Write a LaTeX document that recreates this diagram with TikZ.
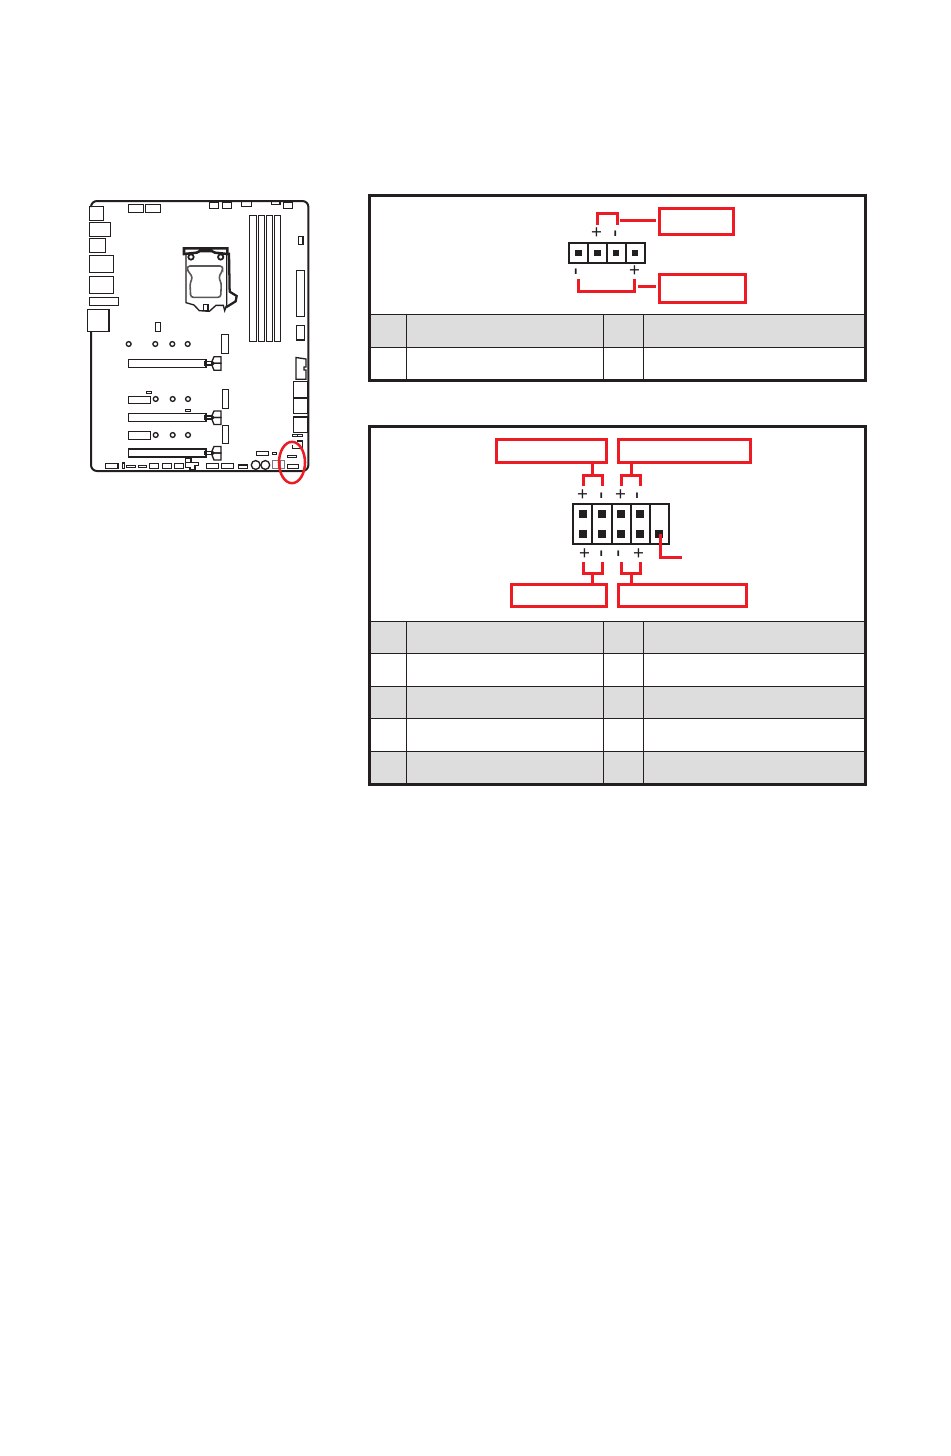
\documentclass[tikz,border=0pt]{standalone}
\usepackage{fontspec}
\setmainfont{Liberation Sans}
\usetikzlibrary{shapes.geometric}
\definecolor{msired}{HTML}{ED1C24}
\definecolor{msiink}{HTML}{231F20}
\definecolor{msigray}{HTML}{DDDDDD}
\tikzset{
  board/.style = {draw = msiink, line width = 1pt},
  thinpart/.style = {draw = msiink, line width = 0.75pt},
  tableframe/.style = {draw = msiink, line width = 2.25pt},
  tablerule/.style = {draw = msiink, line width = 0.7pt},
  redline/.style = {draw = msired, line width = 2.25pt},
  labelbox/.style = {draw = msired, line width = 2.25pt, inner sep = 0pt},
  pinbox/.style = {draw = msiink, line width = 1.5pt},
  polarity/.style = {text = msiink, font = \fontsize{14}{14}\selectfont, inner sep = 0pt},
  tickmark/.style = {text = msiink, font = \fontsize{17}{17}\selectfont, inner sep = 0pt, rotate = 90}
}
\begin{document}
\begin{tikzpicture}[x = 0.75pt, y = -0.75pt]
\useasboundingbox (0,0) rectangle (950,1456);
% board outline
\draw [board, line width = 1.5pt, rounded corners = 4.5pt] (91,206) |- (308.4,201) |- (91,471) -- (91,331);
% rear panel, top edge and memory
\foreach \xa/\ya/\xb/\yb in {89.3/206.3/103.7/220.7, 89.3/222.3/110.5/236.7, 89.3/238.3/105.7/252.7, 89.3/255.3/113.7/272.3, 89.3/276.3/113.7/293.3, 89.3/297.3/118.7/305.7, 87.5/309.3/109/331.3,
  128.3/204.3/143.7/212.7, 145.3/204.3/160.7/212.7, 209.3/202.3/218.7/208.3, 222.3/202.3/231.7/208.3, 241.3/201/251.7/206.3, 271.7/201.5/280/204.3, 283.3/202.3/292.7/208.3,
  249.3/215.3/256.3/341.7, 258.3/215.3/264.7/341.7, 266.3/215.3/272.7/341.7, 274.3/215.3/280.7/341.7,
  298.3/236.3/303/244.3, 296.3/270.3/304.3/316.7, 296.3/325.3/304.3/340, 155.7/322.3/160.7/331.3, 221.3/334.3/228.3/353.3}
  \draw [board] (\xa,\ya) rectangle (\xb,\yb);
% socket
\begin{scope}[shift = {(80,190)}, x = 0.25pt, y = -0.25pt]
\draw [board] (318,195) -- (318,338) -- (342,345) -- (358,362) -- (388,364) -- (408,346) -- (430,346) -- (434,362) -- (440,346) -- (440,195);
\draw [board, line width = 1.9pt] (312,192) -- (312,175) -- (442,175) -- (442,192) -- (405,188) -- (395,183) -- (360,183) -- (350,188) -- cycle;
\draw [board, line width = 1.7pt] (447,188) -- (449,305) -- (470,318) -- (467,334) -- (438,352);
\draw [board, draw = msiink!75, line width = 1.2pt, rounded corners = 2pt] (322,228) -- (428,228) -- (428,240) -- (416,262) -- (424,280) -- (422,322) -- (332,322) -- (330,280) -- (338,262) -- (322,240) -- cycle;
\draw [board, line width = 1.3pt] (333,201) circle (8);
\draw [board, line width = 1.3pt] (422,201) circle (8);
\draw [board] (370,344) rectangle (384,362);
\end{scope}
% slots
\foreach \ys in {363.3, 417.5, 453} {
  \draw [board] (128.3,\ys-4) rectangle (206,\ys+4);
  \draw [board] (205,\ys-1.6) rectangle (212,\ys+1.6);
  \draw [board] (212,\ys-2) -- (214,\ys-6.5) -- (221,\ys-6.5) -- (221,\ys) -- (214,\ys) -- cycle;
  \draw [board] (212,\ys+2) -- (214,\ys+7) -- (221,\ys+7) -- (221,\ys) -- (214,\ys) -- cycle;
}
% mounting holes
\foreach \xh/\yh in {128.7/344, 155.3/344, 172.3/344, 187.7/344, 155.7/399, 172.7/399, 188/399, 155.7/435, 172.7/435, 188/435}
  \draw [board] (\xh,\yh) circle (2.4);
% lower parts
\foreach \xa/\ya/\xb/\yb in {128.3/396.3/150.7/403.7, 128.3/431.3/150.7/439.3, 222.3/389.3/228.3/408.3, 222.3/425.3/228.3/443.3,
  293.3/381.7/308/397.7, 293.3/398.3/308/413.7, 293.3/417/308/432.7,
  105.3/463.3/118/468.3, 122.3/463/124.7/468.3, 149.3/463.3/158.7/468.3, 162.3/463.3/171.7/468.3, 174.7/463.3/183.7/468.3, 185.3/458.3/191/462.3,
  206.7/463.3/218.7/468.3, 221.3/463.3/233.3/468.3, 238.3/465/247.7/468.3, 287.3/464.3/298.7/468.3, 256.3/451.3/268.7/455.3}
  \draw [board] (\xa,\ya) rectangle (\xb,\yb);
\foreach \xa/\ya/\xb/\yb in {146.3/391.3/151.7/393.7, 185.3/409.3/190.7/411.7, 126.3/465.7/135/467.7, 138.3/465.7/146.7/467.7, 292.3/434.3/297.3/436.7, 297.3/434.3/302.3/436.7, 272.3/452.3/276.7/454.7, 287.3/455.3/296.7/457.7}
  \draw [thinpart] (\xa,\ya) rectangle (\xb,\yb);
\draw [board] (296,357.5) -- (306,359) -- (306,367) -- (304,367) -- (304,370) -- (306,370) -- (306,379.3) -- (296,379.3) -- cycle;
\draw [board] (185.3,462.3) -- (198.3,462.3) -- (198.3,465.7) -- (195,465.7) -- (195,469.3) -- (190,469.3) -- (190,467.7) -- (185.3,467.7) -- cycle;
\draw [board] (296.7,441) -- (302.7,441) -- (302.7,448.3) -- (292.3,448.3) -- (292.3,444.5);
\draw [board] (255.7,465) circle (4.4);
\draw [board] (265.3,465) circle (4.4);
\draw [thinpart, draw = msiink!60] (272.3,460) rectangle (280,468.3);
\draw [thinpart, draw = msiink!60] (280,460) rectangle (284.3,468.3);
% marker
\node [draw = msired, line width = 1.9pt, ellipse, inner sep = 0pt, minimum width = 19.5pt, minimum height = 31pt] (marker) at (292,462.5) {};
% upper table
\fill [msigray] (369,314.3) rectangle (865,347.3);
\foreach \y in {314.3, 347.3} \draw [tablerule] (369,\y) -- (865,\y);
\foreach \x in {406.3, 603.3, 643.7} \draw [tablerule] (\x,314.3) -- (\x,380.3);
\draw [tableframe] (369.3,195.3) rectangle (865.3,380.3);
% lower table
\fill [msigray] (369,621) rectangle (865,653.5);
\fill [msigray] (369,686) rectangle (865,718.5);
\fill [msigray] (369,751.5) rectangle (865,784);
\foreach \y in {621, 653.5, 686, 718.5, 751.5} \draw [tablerule] (369,\y) -- (865,\y);
\foreach \x in {406.3, 603.3, 643.7} \draw [tablerule] (\x,621) -- (\x,784);
\draw [tableframe] (369.3,426) rectangle (865.3,784);
% 4 pin header
\foreach \n in {0,...,3} {
  \pgfmathsetmacro\xp{569.2+\n*18.9}
  \draw [pinbox] (\xp,243) rectangle (\xp+18.9,263);
  \fill [msiink] (\xp+6,250) rectangle (\xp+12.4,256);
}
\node [labelbox, minimum width = 55.5pt, minimum height = 20.2pt] (fanbox) at (696.5,221.5) {};
\node [labelbox, minimum width = 65.2pt, minimum height = 21pt] (hddbox) at (702.5,288) {};
\coordinate (topa) at (597,225);
\coordinate (topb) at (617,225);
\coordinate (lowa) at (578,279);
\coordinate (lowb) at (634.5,279);
\draw [redline] (topa) -- (597,213.5) -- (617,213.5) -- (topb);
\draw [redline] (lowa) -- (578,291) -- (634.5,291) -- (lowb);
\coordinate (topstem) at (619.5,220.5);
\coordinate (lowstem) at (637.5,286.5);
\draw [redline, shorten > = 1.2pt] (topstem) -- (fanbox.west |- topstem);
\draw [redline, shorten > = 1.2pt] (lowstem) -- (hddbox.west |- lowstem);
\node [polarity] (ptop) at (596.5,233.5) {+};
\node [tickmark] (mtop) at (618,234) {-};
\node [tickmark] (mlow) at (578.5,271.5) {-};
\node [polarity] (plow) at (634.5,271.5) {+};
% 9 pin header
\foreach \n in {0,...,4} {
  \pgfmathsetmacro\xp{573+\n*19.25}
  \draw [pinbox] (\xp,504) rectangle (\xp+19.25,544);
}
\foreach \x in {583,602,621,640} \foreach \y in {514,534} \fill [msiink] (\x-4,\y-4) rectangle (\x+4,\y+4);
\fill [msiink] (655,530) rectangle (663,538);
\node [labelbox, minimum width = 82pt, minimum height = 17pt] (tlbox) at (551.5,451) {};
\node [labelbox, minimum width = 98.8pt, minimum height = 17pt] (trbox) at (684.5,451) {};
\node [labelbox, minimum width = 70.8pt, minimum height = 16.5pt] (blbox) at (558.8,595.7) {};
\node [labelbox, minimum width = 95.8pt, minimum height = 16.5pt] (brbox) at (682.5,595.7) {};
\foreach \xa/\xb/\xs/\lab/\lob in {583.3/602.5/592.3/tlbox/blbox, 621.3/640.3/631.3/trbox/brbox} {
  \draw [redline] (\xa,486) -- (\xa,475) -- (\xb,475) -- (\xb,486);
  \draw [redline] (\xa,561.7) -- (\xa,573.7) -- (\xb,573.7) -- (\xb,561.7);
  \coordinate (stem) at (\xs,475);
  \draw [redline] (stem) -- (\lab.south -| stem);
  \coordinate (stem) at (\xs,573.7);
  \draw [redline] (stem) -- (\lob.north -| stem);
}
\coordinate (pinnine) at (660,534);
\coordinate (pinend) at (682,557);
\draw [redline] (pinnine) |- (pinend);
\node [polarity] (ptl) at (582.5,495) {+};
\node [tickmark] (mtl) at (604,495.5) {-};
\node [polarity] (ptr) at (620.5,495) {+};
\node [tickmark] (mtr) at (639.7,495.5) {-};
\node [polarity] (pbl) at (584.5,554) {+};
\node [tickmark] (mbl) at (604,554) {-};
\node [tickmark] (mbr) at (621,554) {-};
\node [polarity] (pbr) at (638.5,554) {+};
\end{tikzpicture}
\end{document}
